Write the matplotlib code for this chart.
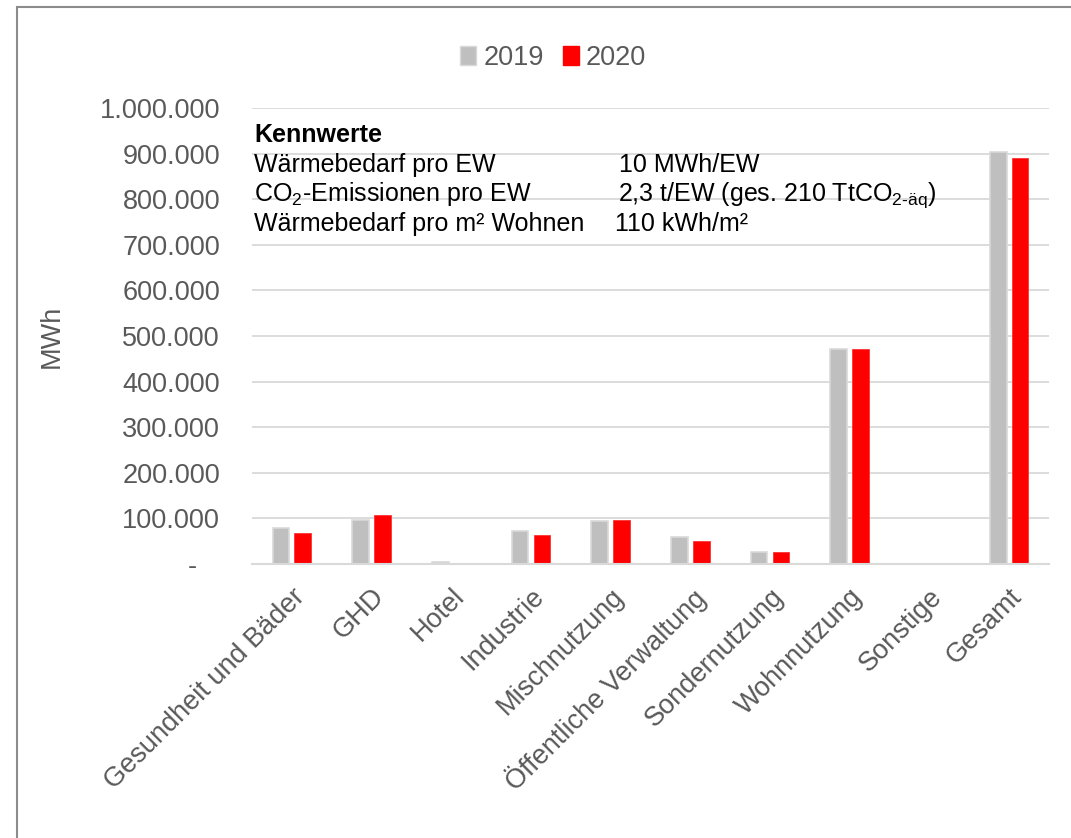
import numpy as np
import matplotlib
matplotlib.use("Agg")
import matplotlib.pyplot as plt
from matplotlib.patches import Rectangle, Patch

plt.rcParams['font.family'] = ['Liberation Sans', 'DejaVu Sans']
plt.rcParams['mathtext.fontset'] = 'custom'
plt.rcParams['mathtext.rm'] = 'Liberation Sans'
plt.rcParams['mathtext.it'] = 'Liberation Sans:italic'
plt.rcParams['mathtext.bf'] = 'Liberation Sans:bold'

# data
kategorien = ["Gesundheit und Bäder", "GHD", "Hotel", "Industrie", "Mischnutzung",
              "Öffentliche Verwaltung", "Sondernutzung", "Wohnnutzung", "Sonstige", "Gesamt"]
werte_2019 = [78500, 96300, 3700, 71900, 94800, 58500, 26700, 471500, 0, 904400]
werte_2020 = [68100, 107400, 1500, 64400, 96300, 50400, 25900, 470500, 0, 891300]
jahre = ["2019", "2020"]
y_ticks = [0, 100000, 200000, 300000, 400000, 500000, 600000, 700000, 800000, 900000, 1000000]

grau = "#bfbfbf"
rot = "#ff0000"
textgrau = "#595959"
W, H = 1071, 838

fig = plt.figure(figsize=(W / 100, H / 100), dpi=100)
ax = fig.add_axes([252 / W, 1 - 564 / H, (1049 - 252) / W, (564 - 108) / H])

x = np.arange(len(kategorien))
breite = 0.21
ax.bar(x - 0.137, werte_2019, breite, color=grau, edgecolor="#d9d9d9", linewidth=1.2, zorder=3)
ax.bar(x + 0.137, werte_2020, breite, color=rot, edgecolor="#ff3333", linewidth=0.6, zorder=3)

ax.set_xlim(-0.5, len(kategorien) - 0.5)
ax.set_ylim(0, 1000000)
ax.set_yticks(y_ticks)
ax.set_yticklabels(["-   "] + [f"{v:,}".replace(",", ".") for v in y_ticks[1:]])
ax.set_xticks(x)
ax.set_xticklabels(kategorien, rotation=45, ha="right", rotation_mode="anchor")
ax.tick_params(axis="y", length=0, pad=23, labelsize=19.5, labelcolor=textgrau)
ax.tick_params(axis="x", length=0, pad=14, labelsize=19.5, labelcolor=textgrau)

ax.grid(axis="y", color="#d9d9d9", linewidth=1.3, zorder=0)
for s in ["top", "right", "left"]:
    ax.spines[s].set_visible(False)
ax.spines["bottom"].set_color("#d9d9d9")
ax.spines["bottom"].set_linewidth(1.5)
ax.spines["bottom"].set_zorder(4)

ax.set_ylabel("MWh", fontsize=19.5, color=textgrau)
ax.yaxis.set_label_coords((65 - 252) / (1049 - 252), 0.5)

# legend
handles = [Patch(facecolor=grau, edgecolor="#d9d9d9"), Patch(facecolor=rot, edgecolor=rot)]
leg = ax.legend(handles, jahre, loc="center", bbox_to_anchor=(553 / W, 1 - 58 / H),
                bbox_transform=fig.transFigure, ncol=2, frameon=False, fontsize=19.5,
                handlelength=0.6, handleheight=0.75, handletextpad=0.25, columnspacing=0.7)
for t in leg.get_texts():
    t.set_color(textgrau)

# Kennwerte text
def txt(px, py, s, **kw):
    fig.text(px / W, 1 - py / H, s, fontsize=18, color="black", va="baseline", ha="left", **kw)

txt(254, 142, "Kennwerte", fontweight="bold")
txt(254, 172, "Wärmebedarf pro EW")
txt(619, 172, "10 MWh/EW")
txt(254, 201, r"CO$_{\text{2}}$-Emissionen pro EW")
txt(618, 201, r"2,3 t/EW (ges. 210 TtCO$_{\text{2-äq}}$)")
txt(254, 231, "Wärmebedarf pro m² Wohnen")
txt(615, 231, "110 kWh/m²")

# Rahmen
fig.patches.append(Rectangle((17 / W, -0.1), 1.2, 1 - 7 / H + 0.1, transform=fig.transFigure,
                             fill=False, edgecolor="#8c8c8c", linewidth=1.5))

fig.savefig("out.png", dpi=100)
